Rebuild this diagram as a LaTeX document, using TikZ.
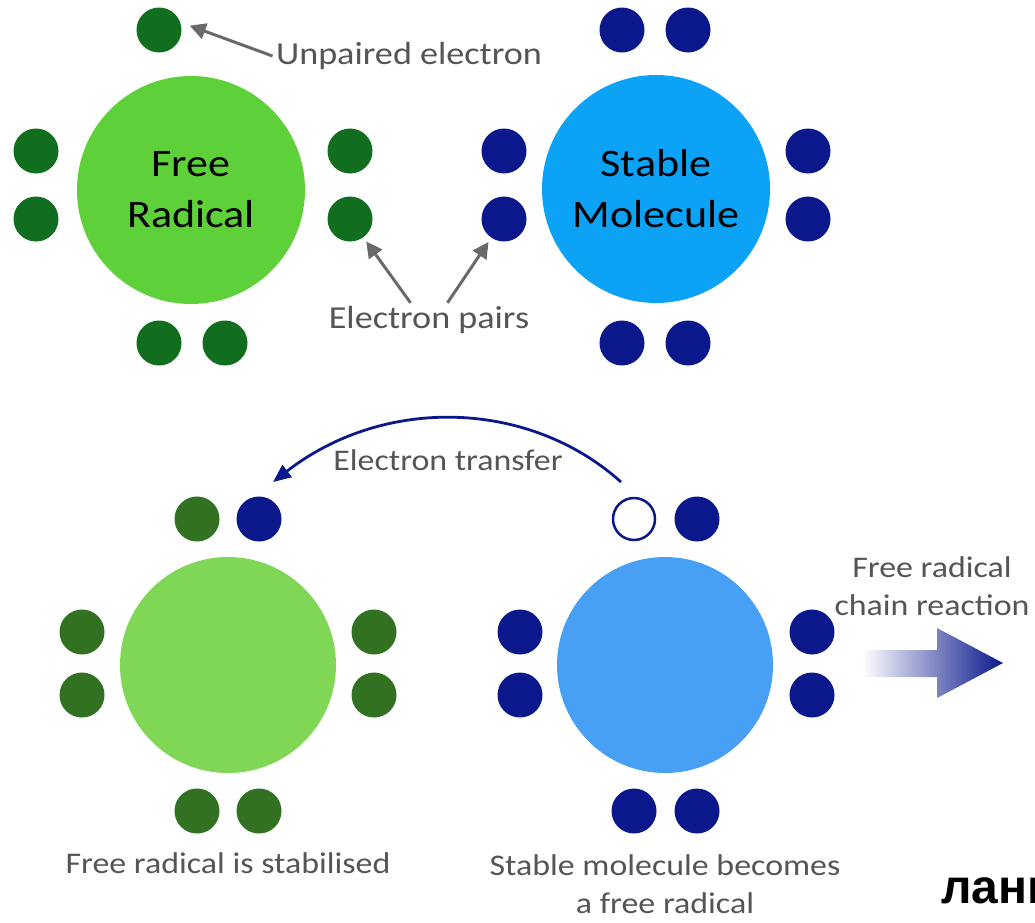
\documentclass[tikz,border=0pt]{standalone}
\usepackage{fontspec}
\setmainfont{Carlito}[FakeStretch=1.13]
\newfontfamily\cyrfont{Liberation Sans}
\usepackage{tikz}
\usetikzlibrary{arrows.meta}

\definecolor{radgreen}{RGB}{94,208,58}
\definecolor{molblue}{RGB}{12,163,247}
\definecolor{paleradgreen}{RGB}{128,214,85}
\definecolor{palemolblue}{RGB}{72,160,245}
\definecolor{dkgreen}{RGB}{16,110,30}
\definecolor{mossgreen}{RGB}{50,112,34}
\definecolor{navy}{RGB}{10,24,140}
\definecolor{notegrey}{RGB}{85,85,85}
\definecolor{arrowgrey}{RGB}{105,105,105}

\begin{document}
\begin{tikzpicture}[x=1pt,y=-1pt]
    \tikzstyle{atom}=[circle,inner sep=0pt,font=\fontsize{39}{51}\selectfont,align=center]
    \tikzstyle{dot}=[circle,inner sep=0pt,minimum size=45pt]
    \tikzstyle{hole}=[circle,inner sep=0pt,minimum size=42pt,draw=navy,line width=2.5pt,fill=white]
    \tikzstyle{note}=[text=notegrey,font=\fontsize{30}{38}\selectfont,align=center]
    \tikzstyle{pointer}=[draw=arrowgrey,line width=3pt,-{Triangle[length=16pt,width=16pt]}]
    \tikzstyle{xfer}=[draw=navy,line width=2.8pt,-{Triangle[length=18pt,width=15pt]}]

    \useasboundingbox[fill=white] (0,0) rectangle (1035,922);

    % top row
    \def\ya{151}
    \def\yb{219}
    \def\yt{30}
    \def\yd{343}

    \node[atom,fill=radgreen,minimum size=228pt] (fr) at (191,190) {Free\\Radical};
    \node[dot,fill=dkgreen] (fr1) at (159,\yt) {};
    \node[dot,fill=dkgreen] (fr2) at (36,\ya) {};
    \node[dot,fill=dkgreen] (fr3) at (36,\yb) {};
    \node[dot,fill=dkgreen] (fr4) at (350,\ya) {};
    \node[dot,fill=dkgreen] (fr5) at (350,\yb) {};
    \node[dot,fill=dkgreen] (fr6) at (159,\yd) {};
    \node[dot,fill=dkgreen] (fr7) at (225,\yd) {};

    \node[atom,fill=molblue,minimum size=228pt] (sm) at (656,189) {Stable\\Molecule};
    \node[dot,fill=navy] (sm1) at (622,\yt) {};
    \node[dot,fill=navy] (sm2) at (688,\yt) {};
    \node[dot,fill=navy] (sm3) at (504,\ya) {};
    \node[dot,fill=navy] (sm4) at (504,\yb) {};
    \node[dot,fill=navy] (sm5) at (808,\ya) {};
    \node[dot,fill=navy] (sm6) at (808,\yb) {};
    \node[dot,fill=navy] (sm7) at (622,\yd) {};
    \node[dot,fill=navy] (sm8) at (688,\yd) {};

    \node[note,font=\fontsize{32}{38}\selectfont] (unp) at (409,56) {Unpaired electron};
    \node[note,font=\fontsize{32}{38}\selectfont] (pairs) at (429,320) {Electron pairs};

    \path[pointer,shorten >=10pt] (unp.west) -- (fr1.20);
    \path[pointer,shorten >=5pt] (pairs.137) -- (fr5);
    \path[pointer,shorten >=5pt] (pairs.43) -- (sm4);

    % bottom row
    \def\Ya{632}
    \def\Yb{695}
    \def\Yt{519}
    \def\Yd{811}

    \node[atom,fill=paleradgreen,minimum size=216pt] (sr) at (228,665) {};
    \node[dot,fill=mossgreen] (sr1) at (197,\Yt) {};
    \node[dot,fill=navy] (sr2) at (259,\Yt) {};
    \node[dot,fill=mossgreen] (sr3) at (82,\Ya) {};
    \node[dot,fill=mossgreen] (sr4) at (82,\Yb) {};
    \node[dot,fill=mossgreen] (sr5) at (374,\Ya) {};
    \node[dot,fill=mossgreen] (sr6) at (374,\Yb) {};
    \node[dot,fill=mossgreen] (sr7) at (197,\Yd) {};
    \node[dot,fill=mossgreen] (sr8) at (259,\Yd) {};

    \node[atom,fill=palemolblue,minimum size=216pt] (nr) at (665,665) {};
    \node[hole] (nr1) at (634,\Yt) {};
    \node[dot,fill=navy] (nr2) at (697,\Yt) {};
    \node[dot,fill=navy] (nr3) at (520,\Ya) {};
    \node[dot,fill=navy] (nr4) at (520,\Yb) {};
    \node[dot,fill=navy] (nr5) at (812,\Ya) {};
    \node[dot,fill=navy] (nr6) at (812,\Yb) {};
    \node[dot,fill=navy] (nr7) at (634,\Yd) {};
    \node[dot,fill=navy] (nr8) at (697,\Yd) {};

    \coordinate (xs) at (621,482);
    \coordinate (xe) at (273,482);
    \path[xfer] (xs) .. controls (530,400) and (385,395) .. (xe);
    \node[note] (xlab) at (448,460) {Electron transfer};

    \node[note] (srlab) at (228,863) {Free radical is stabilised};
    \node[note] (nrlab) at (665,884) {Stable molecule becomes\\a free radical};

    % chain reaction arrow
    \node[note] (chain) at (932,586) {Free radical\\chain reaction};
    \shade[left color=white,right color=navy]
        (862,650) -- (937,650) -- (937,628) -- (1003,663)
        -- (937,698) -- (937,677) -- (862,677) -- cycle;

    \node[anchor=base west,inner sep=0pt,font=\cyrfont\bfseries\fontsize{48}{48}\selectfont] (lan) at (941,903) {ланц};
\end{tikzpicture}
\end{document}
